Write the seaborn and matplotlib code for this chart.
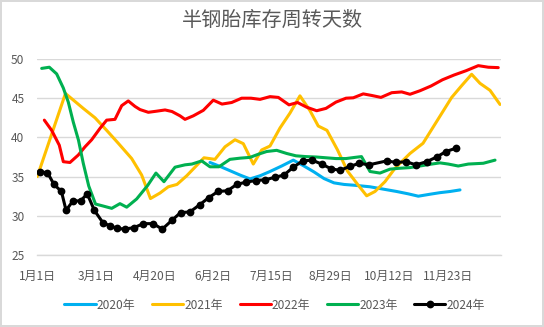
import matplotlib
matplotlib.use("Agg")
import matplotlib.pyplot as plt
from matplotlib.lines import Line2D
import pandas as pd
import seaborn as sns

# 半钢胎库存周转天数 (weekly readings, placed on a shared week-slot axis)
tick_pos = [0, 6, 12, 18, 24, 30, 36, 42]
tick_labels = ["1月1日", "3月1日", "4月20日", "6月2日", "7月15日", "8月29日", "10月12日", "11月23日"]

x_2020 = [17.68, 18.71, 19.73, 20.75, 21.77, 22.79, 23.82, 25.01, 26.20, 27.22, 28.31, 29.34,
          30.36, 31.38, 32.40, 34.04, 35.40, 36.77, 37.95, 38.98, 40.17, 41.19, 42.22, 43.24]
y_2020 = [36.8, 36.3, 35.75, 35.2, 34.7, 35.1, 35.65, 36.35, 37.1, 36.4, 35.6, 34.75,
          34.2, 34.0, 33.9, 33.7, 33.4, 33.1, 32.8, 32.5, 32.75, 32.95, 33.1, 33.3]

x_2021 = [0.03, 2.91, 4.73, 5.93, 7.12, 8.31, 9.68, 10.70, 11.60, 12.57, 13.42, 14.31, 15.30,
          16.15, 17.07, 18.19, 19.22, 20.24, 21.09, 22.11, 22.97, 23.82, 24.84, 25.86, 26.88,
          27.91, 28.75, 29.64, 30.72, 31.74, 32.84, 33.70, 34.55, 35.57, 36.59, 38.13, 39.46,
          40.89, 42.39, 43.41, 44.43, 45.28, 46.31, 47.33]
y_2021 = [35.0, 45.6, 43.7, 42.5, 40.9, 39.25, 37.3, 35.2, 32.2, 32.9, 33.7, 34.0, 35.1,
          36.2, 37.4, 37.2, 38.8, 39.7, 39.2, 36.6, 38.4, 38.9, 41.2, 43.1, 45.3,
          43.4, 41.45, 40.9, 38.4, 35.7, 33.9, 32.55, 33.1, 34.35, 36.05, 37.95, 39.25,
          42.1, 45.1, 46.6, 48.05, 46.9, 46.0, 44.2]

x_2022 = [0.75, 1.50, 2.28, 2.69, 3.37, 4.22, 4.91, 5.59, 6.44, 7.12, 7.97, 8.66, 9.33, 10.02,
          10.53, 11.38, 12.27, 13.09, 13.80, 14.62, 15.13, 15.98, 17.00, 18.02, 18.91, 19.90,
          20.92, 21.87, 22.80, 23.82, 24.67, 25.76, 26.63, 27.57, 28.59, 29.54, 30.56, 31.59,
          32.33, 33.35, 34.21, 35.16, 36.26, 37.28, 38.13, 39.15, 40.27, 41.45, 42.62, 43.85,
          45.11, 46.13, 47.15]
y_2022 = [42.2, 40.9, 39.0, 36.9, 36.8, 37.75, 38.8, 39.7, 41.15, 42.2, 42.3, 44.05, 44.65, 43.95,
          43.55, 43.2, 43.35, 43.5, 43.3, 42.75, 42.3, 42.75, 43.45, 44.75, 44.25, 44.45,
          45.0, 45.0, 44.85, 45.2, 45.1, 44.15, 44.45, 43.85, 43.4, 43.7, 44.5, 45.0,
          45.05, 45.55, 45.35, 45.1, 45.7, 45.8, 45.5, 45.95, 46.55, 47.35, 47.95, 48.5,
          49.15, 48.95, 48.9]

x_2023 = [0.48, 1.26, 2.01, 2.69, 3.20, 3.71, 4.24, 4.73, 5.29, 5.98, 6.75, 7.64, 8.48, 9.17,
          10.19, 11.30, 12.16, 12.98, 14.11, 15.13, 15.84, 16.84, 17.68, 18.60, 19.72, 20.75,
          21.77, 22.62, 23.48, 24.50, 25.52, 26.47, 27.50, 28.52, 29.54, 30.56, 31.58, 32.50,
          33.17, 34.04, 35.06, 36.08, 36.93, 38.13, 39.15, 40.35, 41.19, 42.04, 43.06, 44.09,
          45.62, 46.82]
y_2023 = [48.8, 48.95, 48.1, 46.3, 44.5, 41.95, 39.65, 36.7, 33.8, 31.5, 31.25, 30.95, 31.55, 31.1,
          32.15, 33.85, 35.45, 34.35, 36.2, 36.5, 36.6, 37.0, 36.25, 36.25, 37.2, 37.35,
          37.45, 37.85, 38.2, 38.35, 37.95, 37.65, 37.55, 37.5, 37.4, 37.3, 37.3, 37.45,
          37.55, 35.65, 35.45, 35.95, 36.05, 36.15, 36.35, 36.6, 36.75, 36.6, 36.35, 36.6,
          36.7, 37.1]

x_2024 = [0.31, 1.07, 1.74, 2.50, 2.97, 3.68, 4.45, 5.14, 5.86, 6.75, 7.51, 8.21, 8.96, 9.94,
          10.87, 11.86, 12.81, 13.77, 14.67, 15.64, 16.62, 17.54, 18.50, 19.49, 20.41, 21.39,
          22.37, 23.34, 24.29, 25.25, 26.20, 27.16, 28.11, 29.10, 30.05, 30.97, 31.99, 32.94,
          33.92, 35.75, 36.74, 37.72, 38.74, 39.83, 40.86, 41.81, 42.78]
y_2024 = [35.6, 35.5, 34.0, 33.1, 30.7, 31.9, 31.9, 32.8, 30.7, 29.1, 28.7, 28.4, 28.3, 28.5,
          29.0, 29.0, 28.3, 29.4, 30.4, 30.5, 31.4, 32.3, 33.1, 33.2, 34.0, 34.3,
          34.5, 34.6, 34.9, 35.2, 36.2, 37.0, 37.1, 36.6, 36.0, 35.8, 36.3, 36.7,
          36.5, 37.0, 36.8, 36.9, 36.5, 36.9, 37.5, 38.2, 38.6]

years = ["2020年", "2021年", "2022年", "2023年", "2024年"]
colors = ["#00B0F0", "#FFC000", "#FF0000", "#00B050", "#000000"]
series_x = [x_2020, x_2021, x_2022, x_2023, x_2024]
series_y = [y_2020, y_2021, y_2022, y_2023, y_2024]

frames = []
for yr, xs, ys in zip(years, series_x, series_y):
    frames.append(pd.DataFrame({"年份": yr, "周": xs, "天数": ys}))
df = pd.concat(frames, ignore_index=True)

sns.set_style("white")
plt.rcParams["font.family"] = ["Noto Sans CJK SC", "DejaVu Sans"]
text_color = "#595959"
grid_color = "#D9D9D9"
marker_size = 5.6

fig = plt.figure(figsize=(5.44, 3.27), dpi=100)
ax = fig.add_axes([0.068, 0.2202, 0.8524, 0.5994])

for yr, col in zip(years, colors):
    sub = df[df["年份"] == yr]
    if yr == "2024年":
        sns.lineplot(data=sub, x="周", y="天数", ax=ax, color=col, lw=2.2,
                     sort=False, estimator=None, marker="o", markersize=marker_size,
                     markeredgewidth=0, legend=False)
    else:
        sns.lineplot(data=sub, x="周", y="天数", ax=ax, color=col, lw=2.2,
                     sort=False, estimator=None, legend=False)

ax.set_xlim(0, 47.4)
ax.set_ylim(25, 50)
ax.set_yticks([25, 30, 35, 40, 45, 50])
ax.set_xticks(tick_pos)
ax.set_xticklabels(tick_labels)
ax.set_xlabel("")
ax.set_ylabel("")
ax.yaxis.grid(True, color=grid_color, lw=1.0)
ax.xaxis.grid(False)
ax.set_axisbelow(True)
for side in ["left", "right", "top"]:
    ax.spines[side].set_visible(False)
ax.spines["bottom"].set_color(grid_color)
ax.spines["bottom"].set_linewidth(1.0)
ax.tick_params(axis="both", length=0, colors=text_color, labelsize=8.6)
ax.tick_params(axis="y", pad=9)
ax.tick_params(axis="x", pad=11)
for lab in ax.get_xticklabels() + ax.get_yticklabels():
    lab.set_color(text_color)

fig.text(0.5, 0.937, "半钢胎库存周转天数", ha="center", va="center",
         fontsize=14.5, color=text_color)

handles = []
for yr, col in zip(years, colors):
    if yr == "2024年":
        handles.append(Line2D([], [], color=col, lw=2.2, marker="o", markersize=marker_size,
                              markeredgewidth=0))
    else:
        handles.append(Line2D([], [], color=col, lw=2.2))
fig.legend(handles, years, loc="center", bbox_to_anchor=(0.505, 0.067), ncol=5,
           frameon=False, fontsize=8.6, handlelength=2.6, handletextpad=0.1,
           columnspacing=1.4, labelcolor=text_color)

fig.patch.set_edgecolor(grid_color)
fig.patch.set_linewidth(1.5)
fig.savefig("out.png", dpi=100, edgecolor=fig.get_edgecolor())
